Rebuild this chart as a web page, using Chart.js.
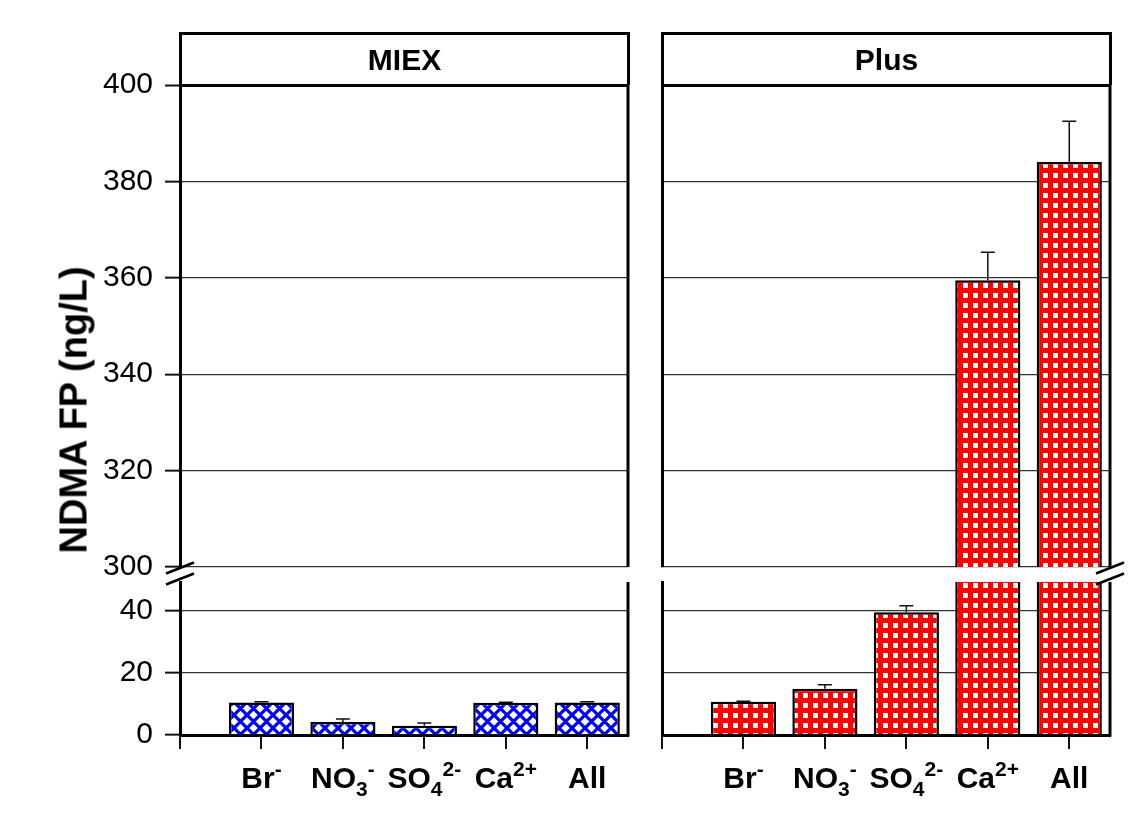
<!DOCTYPE html>
<html lang="en">
<head>
  <meta charset="UTF-8" />
  <title>NDMA FP - MIEX vs Plus</title>
  <script src="https://cdn.jsdelivr.net/npm/chart.js"></script>
  <style>
    body {
      margin: 0;
      background: #fff;
      font-family: "Liberation Sans", Arial, sans-serif;
    }
    .wrap {
      position: relative;
      width: 1143px;
      height: 819px;
    }
    .wrap canvas {
      position: absolute;
      left: 0;
      top: 0;
    }
    .head {
      position: absolute;
      top: 32px;
      height: 53px;
      box-sizing: border-box;
      border: 3px solid #000;
      border-bottom: none;
      font-weight: bold;
      font-size: 30px;
      line-height: 50px;
      text-align: center;
    }
    .ytitle {
      position: absolute;
      left: 74px;
      top: 410px;
      transform: translate(-50%, -50%) rotate(-90deg);
      font-weight: bold;
      font-size: 38px;
      white-space: nowrap;
    }
  </style>
</head>
<body>
  <div class="wrap">
    <canvas id="miexHigh" width="1143" height="819"></canvas>
    <canvas id="miexLow" width="1143" height="819"></canvas>
    <canvas id="plusHigh" width="1143" height="819"></canvas>
    <canvas id="plusLow" width="1143" height="819"></canvas>
    <div class="head" style="left:179px;width:451px">MIEX</div>
    <div class="head" style="left:661px;width:451px">Plus</div>
    <div class="ytitle">NDMA FP (ng/L)</div>
  </div>

  <script>
    // data
    const categories = ['Br^{-}', 'NO_{3}^{-}', 'SO_{4}^{2-}', 'Ca^{2+}', 'All'];
    const catPos = [1, 2, 3, 4, 5];
    const miexValues = [10.5, 4.2, 3.0, 10.4, 10.5];
    const miexErrors = [0.2, 1.0, 0.9, 0.2, 0.2];
    const plusValues = [10.7, 14.9, 39.6, 359.5, 384.0];
    const plusErrors = [0.2, 1.3, 2.1, 5.8, 8.5];
    const highTicks = [300, 320, 340, 360, 380, 400];
    const lowTicks = [0, 20, 40];
    const highRange = [300, 400];
    const lowRange = [0, 49.4];
    const xTicks = [0, 1, 2, 3, 4, 5];
    const xRange = [0, 5.5];

    // page layout
    const W = 1143, H = 819;
    const miexSide = { left: 180, right: 628, breakAt: 'left' };
    const plusSide = { left: 662, right: 1110, breakAt: 'right' };
    const highBox = { top: 85, bottom: 567 };
    const lowBox = { top: 582, bottom: 735 };
    const labelBaseline = 788;

    function crossHatch() {
      const c = document.createElement('canvas');
      c.width = c.height = 13;
      const g = c.getContext('2d');
      g.fillStyle = '#fff';
      g.fillRect(0, 0, 13, 13);
      g.strokeStyle = '#0000ff';
      g.lineWidth = 3.2;
      g.beginPath();
      for (const o of [-13, 0, 13]) {
        g.moveTo(o - 2, -2); g.lineTo(o + 15, 15);
        g.moveTo(o + 15, -2); g.lineTo(o - 2, 15);
      }
      g.stroke();
      return g.createPattern(c, 'repeat');
    }

    function squareGrid() {
      const c = document.createElement('canvas');
      c.width = c.height = 10;
      const g = c.getContext('2d');
      g.fillStyle = '#ff0000';
      g.fillRect(0, 0, 10, 10);
      g.fillStyle = '#fff';
      g.fillRect(3, 3, 5, 5);
      return g.createPattern(c, 'repeat');
    }

    function parseLabel(s) {
      const parts = [];
      const re = /([_^])\{([^}]*)\}|([^_^]+)/g;
      let m;
      while ((m = re.exec(s))) {
        if (m[3]) parts.push({ t: m[3], mode: 'n' });
        else parts.push({ t: m[2], mode: m[1] === '_' ? 'sub' : 'sup' });
      }
      return parts;
    }

    const errorBars = {
      id: 'errorBars',
      afterDatasetsDraw(chart) {
        const { ctx, chartArea } = chart;
        const y = chart.scales.y;
        ctx.save();
        ctx.beginPath();
        ctx.rect(chartArea.left, chartArea.top, chartArea.width, chartArea.height);
        ctx.clip();
        ctx.strokeStyle = '#111';
        ctx.lineWidth = 1.5;
        chart.data.datasets.forEach((ds, di) => {
          chart.getDatasetMeta(di).data.forEach((bar, i) => {
            const v = ds.data[i].y;
            if (v == null) return;
            const top = y.getPixelForValue(v + ds.errors[i]);
            ctx.beginPath();
            ctx.moveTo(bar.x, bar.y);
            ctx.lineTo(bar.x, top);
            ctx.moveTo(bar.x - 7, top);
            ctx.lineTo(bar.x + 7, top);
            ctx.stroke();
          });
        });
        ctx.restore();
      }
    };

    const frame = {
      id: 'frame',
      afterDraw(chart, args, opts) {
        const { ctx, chartArea } = chart;
        ctx.save();
        ctx.strokeStyle = '#000';
        ctx.lineWidth = 3;
        ctx.beginPath();
        ctx.moveTo(chartArea.right, chartArea.top);
        ctx.lineTo(chartArea.right, chartArea.bottom + (opts.low ? 1.5 : 0));
        ctx.stroke();

        if (opts.low) {
          // axis break marks
          const bx = opts.breakAt === 'left' ? chartArea.left : chartArea.right;
          ctx.lineWidth = 2.5;
          for (const yc of [highBox.bottom + 1, chartArea.top - 3]) {
            ctx.beginPath();
            ctx.moveTo(bx - 14, yc + 5.5);
            ctx.lineTo(bx + 14, yc - 5.5);
            ctx.stroke();
          }

          // category labels with sub/superscripts
          const x = chart.scales.x;
          ctx.fillStyle = '#000';
          ctx.textBaseline = 'alphabetic';
          const big = 'bold 30px "Liberation Sans", Arial, sans-serif';
          const small = 'bold 21px "Liberation Sans", Arial, sans-serif';
          categories.forEach((lab, i) => {
            const parts = parseLabel(lab);
            let total = 0;
            parts.forEach(p => {
              ctx.font = p.mode === 'n' ? big : small;
              p.w = ctx.measureText(p.t).width;
              total += p.w;
            });
            let cx = x.getPixelForValue(catPos[i]) - total / 2;
            parts.forEach(p => {
              ctx.font = p.mode === 'n' ? big : small;
              const dy = p.mode === 'sub' ? 8 : p.mode === 'sup' ? -12 : 0;
              ctx.fillText(p.t, cx, labelBaseline + dy);
              cx += p.w;
            });
          });
        }
        ctx.restore();
      }
    };

    function makeChart(id, side, part, values, errors, fill, showY) {
      const high = part === 'high';
      const box = high ? highBox : lowBox;
      const range = high ? highRange : lowRange;
      const tickVals = high ? highTicks : lowTicks;
      const yW = showY ? side.left : 4;
      const xH = high ? 0 : 16;
      const data = values.map((v, i) => ({ x: catPos[i], y: high && v < range[0] ? null : v }));

      return new Chart(document.getElementById(id), {
        type: 'bar',
        data: {
          datasets: [{
            data,
            errors,
            backgroundColor: fill,
            borderColor: '#000',
            borderWidth: 2.5,
            borderSkipped: 'start',
            barPercentage: 0.8,
            categoryPercentage: 1
          }]
        },
        options: {
          responsive: false,
          animation: false,
          devicePixelRatio: 1,
          events: [],
          layout: {
            padding: {
              left: side.left - yW,
              right: W - side.right,
              top: box.top,
              bottom: H - box.bottom - xH
            }
          },
          plugins: {
            legend: { display: false },
            tooltip: { enabled: false },
            frame: { low: !high, breakAt: side.breakAt }
          },
          scales: {
            x: {
              type: 'linear',
              min: xRange[0],
              max: xRange[1],
              offset: false,
              display: !high,
              grid: { offset: false, drawOnChartArea: false, tickLength: 14, color: '#111', lineWidth: 2 },
              border: { width: 3, color: '#000' },
              ticks: { display: false },
              afterBuildTicks: s => { s.ticks = xTicks.map(v => ({ value: v })); },
              afterFit: s => { s.height = xH; }
            },
            y: {
              min: range[0],
              max: range[1],
              grid: {
                color: c => (c.tick && c.tick.value === 400 ? '#000' : '#333'),
                lineWidth: c => (c.tick && c.tick.value === 400 ? 3 : 1.3),
                drawTicks: showY,
                tickLength: 15,
                tickColor: '#111',
                tickWidth: 2
              },
              border: { width: 3, color: '#000' },
              ticks: {
                display: showY,
                padding: 12,
                color: '#000',
                font: { size: 30, family: '"Liberation Sans", Arial, sans-serif' }
              },
              afterBuildTicks: s => { s.ticks = tickVals.map(v => ({ value: v })); },
              afterFit: s => { s.width = yW; }
            }
          }
        },
        plugins: [errorBars, frame]
      });
    }

    const blueFill = crossHatch();
    const redFill = squareGrid();

    makeChart('miexHigh', miexSide, 'high', miexValues, miexErrors, blueFill, true);
    makeChart('miexLow', miexSide, 'low', miexValues, miexErrors, blueFill, true);
    makeChart('plusHigh', plusSide, 'high', plusValues, plusErrors, redFill, false);
    makeChart('plusLow', plusSide, 'low', plusValues, plusErrors, redFill, false);
  </script>
</body>
</html>
